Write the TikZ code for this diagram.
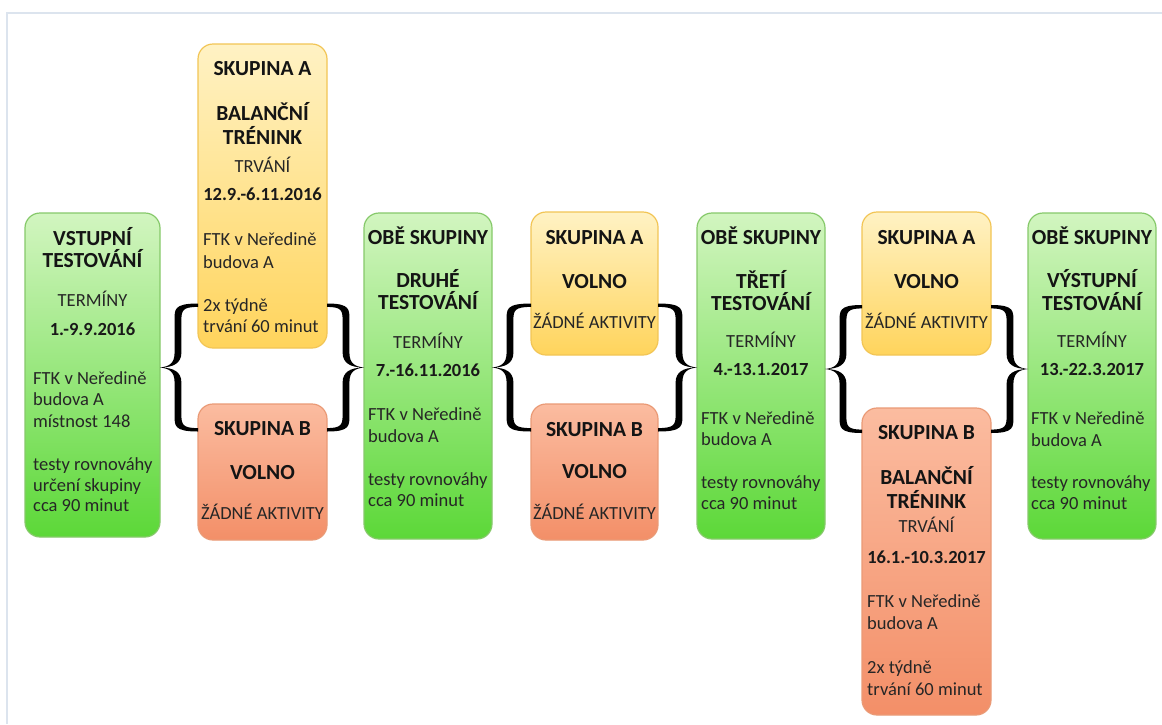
\documentclass[tikz,border=0pt]{standalone}
\usepackage{fontspec}
\setmainfont{Carlito}
\usetikzlibrary{calc}
\definecolor{gtop}{HTML}{D2F5C0}
\definecolor{gbot}{HTML}{5CD838}
\definecolor{gbrd}{HTML}{86C96A}
\definecolor{ytop}{HTML}{FFF2C4}
\definecolor{ybot}{HTML}{FFD45C}
\definecolor{ybrd}{HTML}{F2C555}
\definecolor{otop}{HTML}{FBBCA0}
\definecolor{obot}{HTML}{F38F68}
\definecolor{obrd}{HTML}{EA9A76}
\definecolor{frm}{HTML}{DCE4EE}
\definecolor{bodytxt}{HTML}{262626}
\tikzset{
  lbrace/.pic={
    \fill[black] (#1,-64) .. controls (13.5,-64) and (14.6,-58) .. (14.6,-47)
      -- (14.6,-15) .. controls (14.6,-4) and (9,-0.9) .. (0,0)
      .. controls (9,0.9) and (14.6,4) .. (14.6,15)
      -- (14.6,47) .. controls (14.6,58) and (13.5,64) .. (#1,64)
      -- (#1,60.6) .. controls (22.5,60.6) and (21.4,57) .. (21.4,47)
      -- (21.4,15) .. controls (21.4,4) and (13,0.4) .. (1.5,0)
      .. controls (13,-0.4) and (21.4,-4) .. (21.4,-15)
      -- (21.4,-47) .. controls (21.4,-57) and (22.5,-60.6) .. (#1,-60.6) -- cycle;
  }
}
\begin{document}
\begin{tikzpicture}[x=1pt,y=-1pt,
  boxbase/.style={rounded corners=15pt, line width=1.2pt, inner sep=0pt, outer sep=0pt},
  gbox/.style={boxbase, draw=gbrd, top color=gtop, bottom color=gbot},
  ybox/.style={boxbase, draw=ybrd, top color=ytop, bottom color=ybot},
  obox/.style={boxbase, draw=obrd, top color=otop, bottom color=obot},
  hd/.style={font=\bfseries\fontsize{21.5}{24}\selectfont, anchor=base, yshift=-7pt, inner sep=0pt, text=black!92},
  dt/.style={font=\bfseries\fontsize{18.5}{21.5}\selectfont, anchor=base, yshift=-6pt, inner sep=0pt, text=black!90},
  lb/.style={font=\fontsize{18.5}{21.5}\selectfont, anchor=base, yshift=-6pt, inner sep=0pt, text=bodytxt},
  bd/.style={font=\fontsize{18.5}{21.5}\selectfont, anchor=base west, yshift=-6pt, inner sep=0pt, text=bodytxt}
]
\useasboundingbox (0,0) rectangle (1162,724);
\fill[white] (0,0) rectangle (1162,724);
\draw[frm, line width=1.5pt] (7,724) -- (7,13) -- (1162,13);

% boxes
\node[gbox, minimum width=135pt, minimum height=324pt] (g1) at (92.5,375) {};
\node[ybox, minimum width=129pt, minimum height=304pt] (ya1) at (262.5,196) {};
\node[obox, minimum width=129pt, minimum height=136pt] (ob1) at (262.5,472) {};
\node[gbox, minimum width=128pt, minimum height=326pt] (g2) at (428,376) {};
\node[ybox, minimum width=127pt, minimum height=143pt] (ya2) at (594.5,283.5) {};
\node[obox, minimum width=127pt, minimum height=136pt] (ob2) at (594.5,472) {};
\node[gbox, minimum width=128pt, minimum height=326pt] (g3) at (761,376) {};
\node[ybox, minimum width=129pt, minimum height=143pt] (ya3) at (926.5,283.5) {};
\node[obox, minimum width=129pt, minimum height=307pt] (ob3) at (926.5,561.5) {};
\node[gbox, minimum width=128pt, minimum height=326pt] (g4) at (1092,376) {};

% texts
\foreach \xx/\yy/\st/\tx [count=\i] in {
  92.5/238/hd/VSTUPNÍ, 92.5/260/hd/TESTOVÁNÍ, 92.5/300/lb/TERMÍNY, 92.5/329/dt/1.-9.9.2016,
  33/378/bd/FTK v Neředině, 33/399/bd/budova A, 33/421/bd/místnost 148,
  33/464/bd/testy rovnováhy, 33/485/bd/určení skupiny, 33/505/bd/cca 90 minut}
  \node[\st] (ta\i) at (\xx,\yy) {\tx};

\foreach \xx/\yy/\st/\tx [count=\i] in {
  262.5/68/hd/SKUPINA A, 262.5/113/hd/BALANČNÍ, 262.5/137/hd/TRÉNINK, 262.5/166/lb/TRVÁNÍ,
  262.5/194/dt/12.9.-6.11.2016, 203/239/bd/FTK v Neředině, 203/262/bd/budova A,
  203/305/bd/2x týdně, 203/326/bd/trvání 60 minut,
  262.5/428/hd/SKUPINA B, 262.5/472/hd/VOLNO, 262.5/513/lb/ŽÁDNÉ AKTIVITY}
  \node[\st] (tb\i) at (\xx,\yy) {\tx};

\foreach \xx/\yy/\st/\tx [count=\i] in {
  428/237/hd/OBĚ SKUPINY, 428/280/hd/DRUHÉ, 428/302/hd/TESTOVÁNÍ, 428/342/lb/TERMÍNY,
  428/370/dt/7.-16.11.2016, 368/414/bd/FTK v Neředině, 368/436/bd/budova A,
  368/479/bd/testy rovnováhy, 368/500/bd/cca 90 minut}
  \node[\st] (tc\i) at (\xx,\yy) {\tx};

\foreach \xx/\yy/\st/\tx [count=\i] in {
  594.5/237/hd/SKUPINA A, 594.5/281/hd/VOLNO, 594.5/322/lb/ŽÁDNÉ AKTIVITY,
  594.5/429/hd/SKUPINA B, 594.5/471/hd/VOLNO, 594.5/513/lb/ŽÁDNÉ AKTIVITY}
  \node[\st] (td\i) at (\xx,\yy) {\tx};

\foreach \xx/\yy/\st/\tx [count=\i] in {
  761/237/hd/OBĚ SKUPINY, 761/281/hd/TŘETÍ, 761/303/hd/TESTOVÁNÍ, 761/341/lb/TERMÍNY,
  761/369/dt/4.-13.1.2017, 701/418/bd/FTK v Neředině, 701/439/bd/budova A,
  701/482/bd/testy rovnováhy, 701/503/bd/cca 90 minut}
  \node[\st] (te\i) at (\xx,\yy) {\tx};

\foreach \xx/\yy/\st/\tx [count=\i] in {
  926.5/237/hd/SKUPINA A, 926.5/281/hd/VOLNO, 926.5/322/lb/ŽÁDNÉ AKTIVITY,
  926.5/432/hd/SKUPINA B, 926.5/477/hd/BALANČNÍ, 926.5/501/hd/TRÉNINK, 926.5/526/lb/TRVÁNÍ,
  926.5/557/dt/16.1.-10.3.2017, 867/601/bd/FTK v Neředině, 867/623/bd/budova A,
  867/667/bd/2x týdně, 867/689/bd/trvání 60 minut}
  \node[\st] (tf\i) at (\xx,\yy) {\tx};

\foreach \xx/\yy/\st/\tx [count=\i] in {
  1092/237/hd/OBĚ SKUPINY, 1092/280/hd/VÝSTUPNÍ, 1092/303/hd/TESTOVÁNÍ, 1092/341/lb/TERMÍNY,
  1092/369/dt/13.-22.3.2017, 1031/418/bd/FTK v Neředině, 1031/440/bd/budova A,
  1031/482/bd/testy rovnováhy, 1031/503/bd/cca 90 minut}
  \node[\st] (tg\i) at (\xx,\yy) {\tx};

% braces
\coordinate (m1) at (0,367.5);
\coordinate (m3) at (0,369);
\pic at (g1.east |- m1) {lbrace=38};
\pic[xscale=-1] at (g2.west |- m1) {lbrace=37};
\pic at (g2.east |- m1) {lbrace=39};
\pic[xscale=-1] at (g3.west |- m1) {lbrace=39};
\pic at (g3.east |- m3) {lbrace=37};
\pic[xscale=-1] at (g4.west |- m3) {lbrace=37};
\end{tikzpicture}
\end{document}
